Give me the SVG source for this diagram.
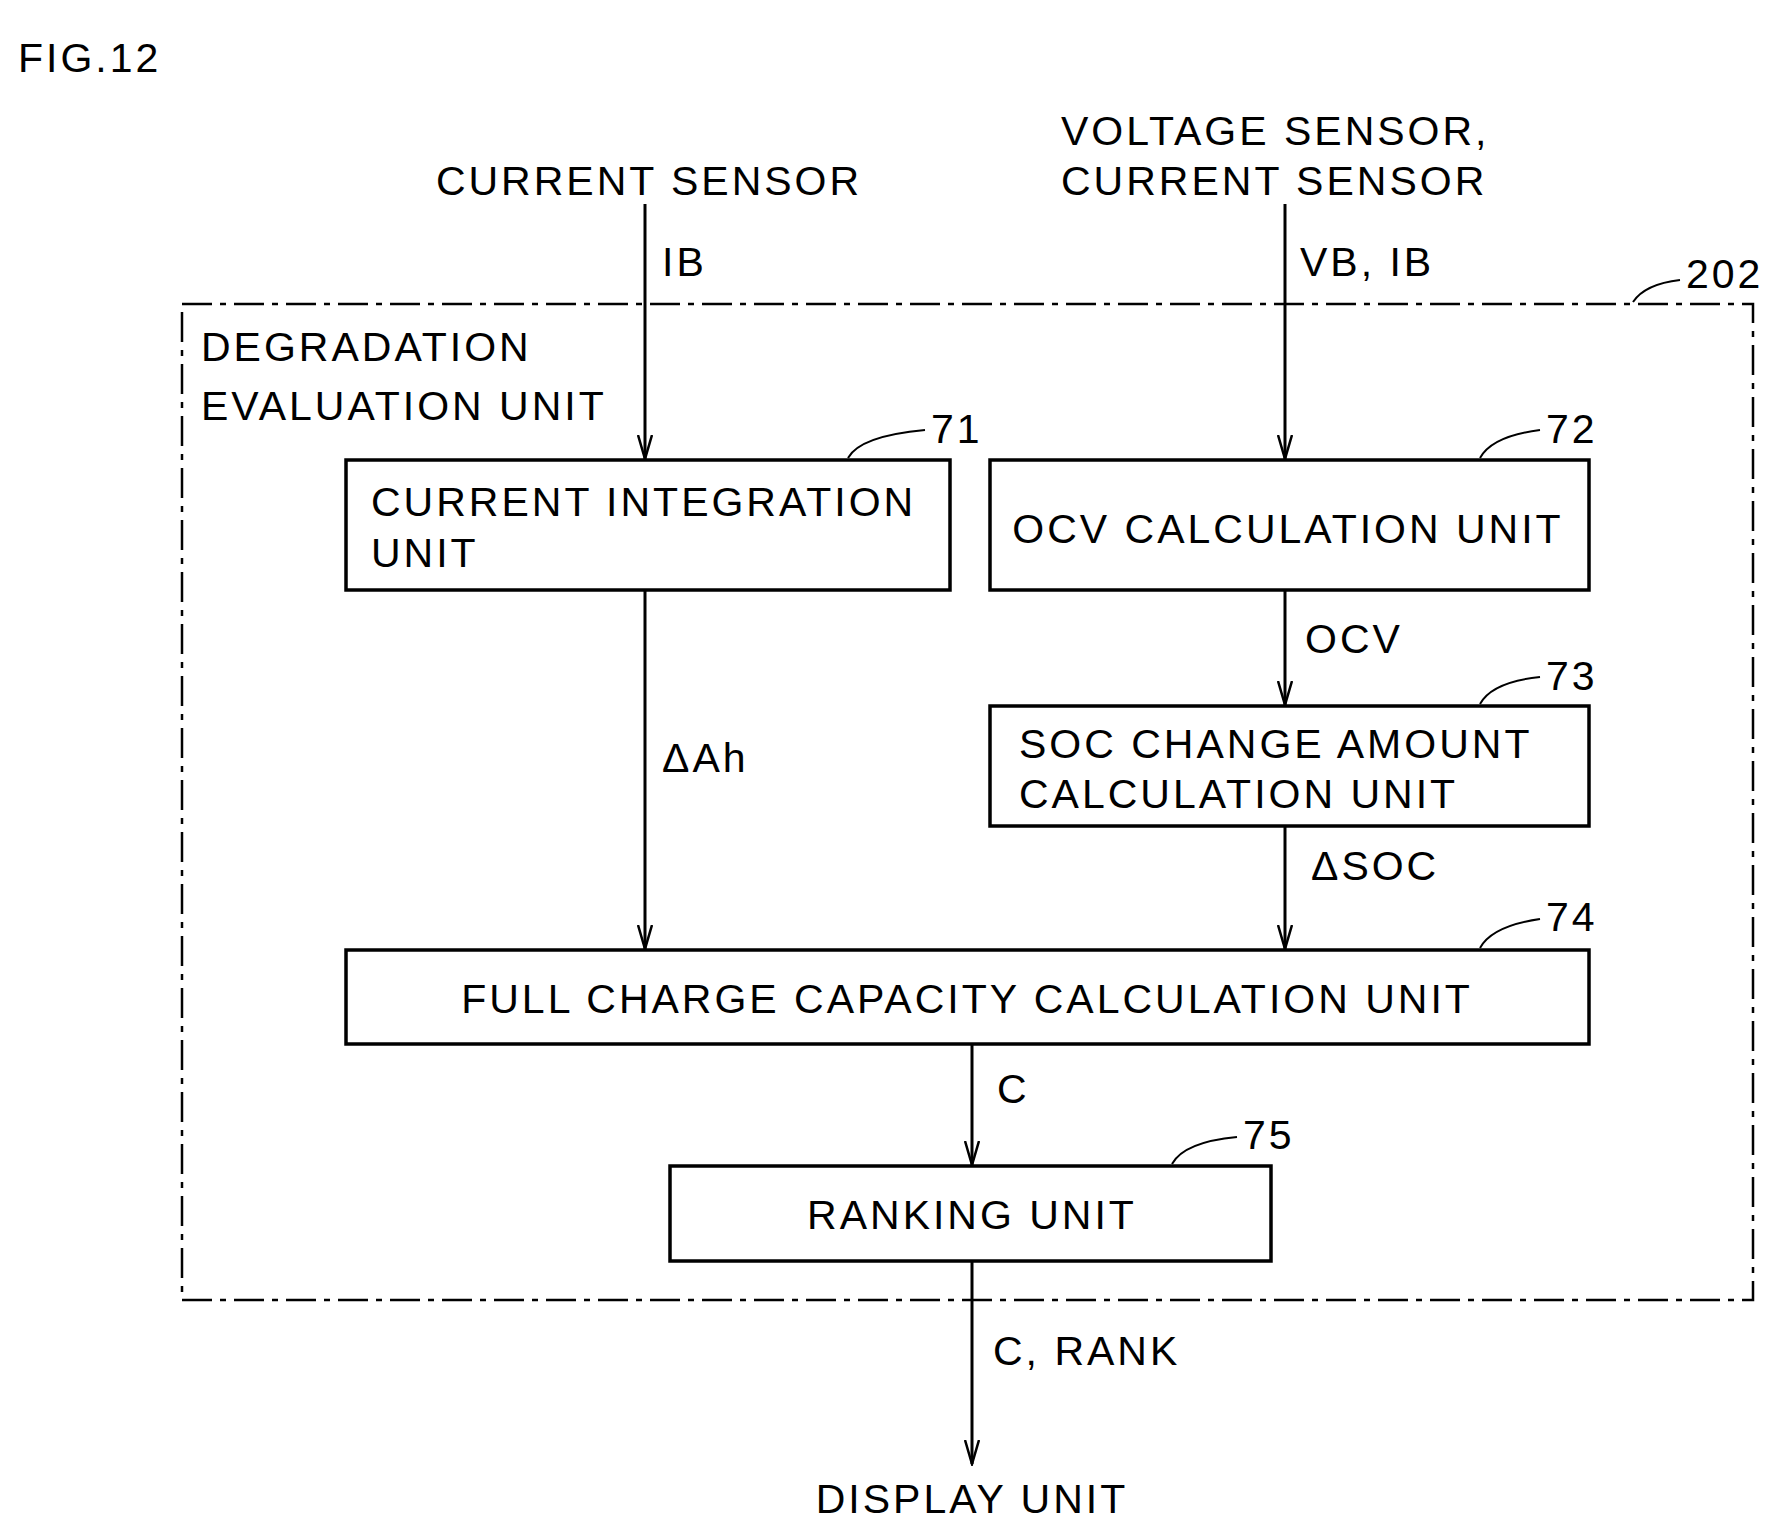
<svg xmlns="http://www.w3.org/2000/svg" width="1778" height="1532" viewBox="0 0 1778 1532">
<defs><marker id="ar" markerWidth="26" markerHeight="16" refX="24" refY="8" orient="auto" markerUnits="userSpaceOnUse" viewBox="0 0 26 16"><path d="M0,1 L24,8 L0,15" fill="none" stroke="#000" stroke-width="2.5"/></marker></defs>
<style>
text{font-family:"Liberation Sans",Arial,sans-serif;font-size:41px;fill:#000;letter-spacing:3px}
.b{fill:#fff;stroke:#000;stroke-width:3.5}
.c{stroke:#000;stroke-width:3;fill:none}
.l{stroke:#000;stroke-width:2;fill:none}
.m{text-anchor:middle}
</style>
<rect width="1778" height="1532" fill="#fff"/>
<text x="18" y="72" font-size="56" letter-spacing="0">FIG.12</text>
<text x="649" y="195" class="m">CURRENT SENSOR</text>
<text x="1061" y="145">VOLTAGE SENSOR,</text>
<text x="1061" y="195">CURRENT SENSOR</text>
<g id="frame">
<rect x="182" y="304" width="1571" height="996" fill="none" stroke="#000" stroke-width="2.5" stroke-dasharray="30,8,6,8"/>
<text x="201" y="361">DEGRADATION</text><text x="201" y="420">EVALUATION UNIT</text>
<path class="l" d="M1633,302 Q1645,284 1680,280"/><text x="1686" y="288">202</text>
</g>
<g id="connectors">
<line class="c" x1="645" y1="204" x2="645" y2="459" marker-end="url(#ar)"/>
<line class="c" x1="645" y1="590" x2="645" y2="949" marker-end="url(#ar)"/>
<line class="c" x1="1285" y1="204" x2="1285" y2="459" marker-end="url(#ar)"/>
<line class="c" x1="1285" y1="590" x2="1285" y2="705" marker-end="url(#ar)"/>
<line class="c" x1="1285" y1="826" x2="1285" y2="949" marker-end="url(#ar)"/>
<line class="c" x1="972" y1="1044" x2="972" y2="1165" marker-end="url(#ar)"/>
<line class="c" x1="972" y1="1261" x2="972" y2="1464" marker-end="url(#ar)"/>
<text x="662" y="276">IB</text><text x="1300" y="276">VB, IB</text>
<text x="1305" y="653">OCV</text><text x="662" y="772">ΔAh</text><text x="1311" y="880">ΔSOC</text>
<text x="997" y="1103">C</text><text x="993" y="1365">C, RANK</text>
</g>
<g id="n71"><rect class="b" x="346" y="460" width="604" height="130"/><text x="371" y="516">CURRENT INTEGRATION</text><text x="371" y="567">UNIT</text><path class="l" d="M848,458 Q860,436 925,430"/><text x="931" y="443">71</text></g>
<g id="n72"><rect class="b" x="990" y="460" width="599" height="130"/><text x="1288" y="543" class="m">OCV CALCULATION UNIT</text><path class="l" d="M1480,458 Q1492,436 1540,430"/><text x="1546" y="443">72</text></g>
<g id="n73"><rect class="b" x="990" y="706" width="599" height="120"/><text x="1019" y="758">SOC CHANGE AMOUNT</text><text x="1019" y="808">CALCULATION UNIT</text><path class="l" d="M1480,704 Q1492,682 1540,677"/><text x="1546" y="690">73</text></g>
<g id="n74"><rect class="b" x="346" y="950" width="1243" height="94"/><text x="967" y="1013" class="m">FULL CHARGE CAPACITY CALCULATION UNIT</text><path class="l" d="M1480,948 Q1492,926 1540,919"/><text x="1546" y="931">74</text></g>
<g id="n75"><rect class="b" x="670" y="1166" width="601" height="95"/><text x="972" y="1229" class="m">RANKING UNIT</text><path class="l" d="M1172,1164 Q1184,1142 1237,1137"/><text x="1243" y="1149">75</text></g>
<text x="972" y="1513" class="m">DISPLAY UNIT</text>
</svg>
